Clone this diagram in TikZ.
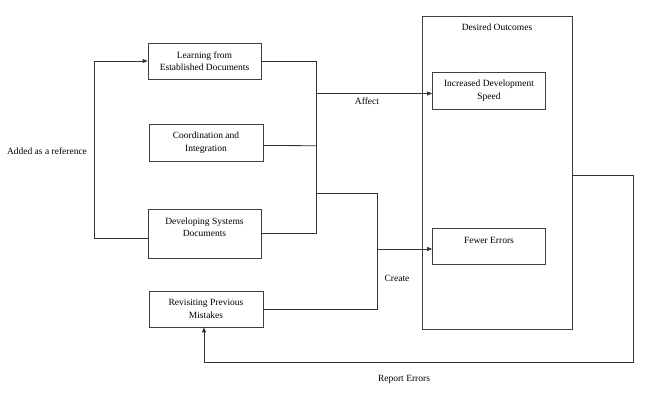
\documentclass[tikz,border=0pt]{standalone}
\usepackage{fontspec}
\setmainfont{Liberation Serif}
\usetikzlibrary{arrows.meta}
\begin{document}
\begin{tikzpicture}[x=1pt,y=-1pt,
  box/.style={draw=black!75,line width=0.8pt,rectangle,inner sep=0pt,align=center,font=\fontsize{9.5}{12.5}\selectfont},
  lbl/.style={font=\fontsize{9.5}{12}\selectfont,inner sep=0pt},
  ln/.style={draw=black!80,line width=0.8pt},
  arr/.style={ln,-{Triangle[length=5pt,width=4pt]}}]
\useasboundingbox (0,0) rectangle (659,416);
% outer box
\node[box,minimum width=150,minimum height=313] (do) at (497,172.5) {};
\node[lbl] (dot) at (497,27) {Desired Outcomes};
% left boxes
\node[box,minimum width=113,minimum height=36] (b1) at (204.5,61) {Learning from\\Established Documents};
\node[box,minimum width=114,minimum height=37] (b2) at (206,142.5) {Coordination and\\Integration};
\node[box,minimum width=113,minimum height=49] (b3) at (204.5,233.5) {Developing Systems\\Documents\\\mbox{}};
\node[box,minimum width=114,minimum height=36] (b4) at (206,309) {Revisiting Previous\\Mistakes};
% right inner boxes
\node[box,minimum width=113,minimum height=37] (ids) at (489,90.7) {Increased Development\\Speed};
\node[box,minimum width=113,minimum height=36] (fe) at (489,246.3) {Fewer Errors\\\mbox{}};
% coordinates
\coordinate (l1) at (94,238);
\coordinate (j1) at (316,61);
\coordinate (j2) at (316,233.5);
\coordinate (j3) at (316,145.7);
\coordinate (ja) at (316,93.5);
\coordinate (jc) at (316,193);
\coordinate (k1) at (377,193);
\coordinate (k2) at (377,249);
\coordinate (r1) at (633,175);
\coordinate (r2) at (633,362);
\coordinate (r3) at (204,362);
% connectors
\draw[arr] ([yshift=-4.5pt]b3.west) -- (l1) |- (b1.west);
\draw[ln] (b1.east) -- (j1) -- (j2) -- (b3.east);
\draw[ln] ([yshift=-3pt]b2.east) -- (j3);
\draw[arr] (ja) -- (ids.west |- ja);
\draw[ln] (jc) -- (k1) |- (b4.east);
\draw[arr] (k2) -- (fe.west |- k2);
\draw[arr] (do.east |- r1) -- (r1) -- (r2) -- (r3) -- (b4.south -| r3);
% labels
\node[lbl] (affect) at (367,101) {Affect};
\node[lbl] (create) at (397,278) {Create};
\node[lbl] (report) at (404,379) {Report Errors};
\node[lbl] (added) at (47,151) {Added as a reference};
\end{tikzpicture}
\end{document}
